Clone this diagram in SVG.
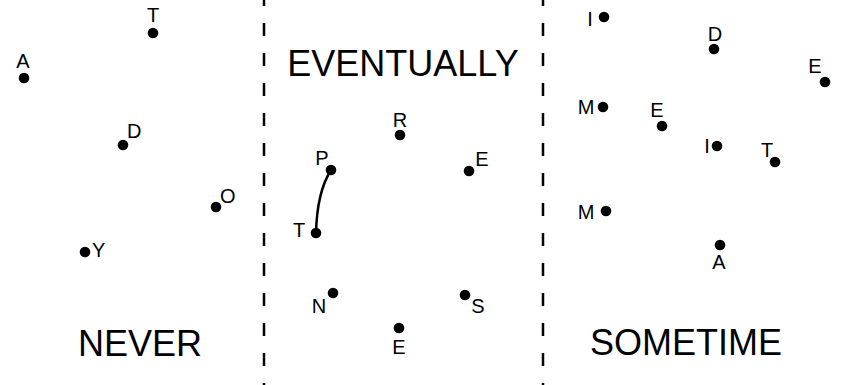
<svg xmlns="http://www.w3.org/2000/svg" width="844" height="385" viewBox="0 0 844 385">
<style>
.dot{fill:#000}
.lbl{font-family:"Liberation Sans",Arial,sans-serif;font-size:20px;fill:#000}
.big{font-family:"Liberation Sans",Arial,sans-serif;font-size:36px;fill:#000;text-anchor:middle}
.div{stroke:#000;stroke-width:2.5;stroke-dasharray:13 17;fill:none}
.edge{stroke:#000;stroke-width:2.5;fill:none}
</style>
<rect width="844" height="385" fill="#fff"/>
<g id="dividers">
<line class="div" x1="264" y1="-7" x2="264" y2="392"/>
<line class="div" x1="543" y1="-7" x2="543" y2="392"/>
</g>
<g id="titles">
<text class="big" x="140" y="356">NEVER</text>
<text class="big" x="403" y="76">EVENTUALLY</text>
<text class="big" x="686" y="355">SOMETIME</text>
</g>
<g id="connectors">
<path class="edge" d="M316,233 Q317,192 331,170"/>
</g>
<g id="never-T"><circle class="dot" cx="153" cy="33" r="5.3"/><text class="lbl" x="153" y="22" text-anchor="middle">T</text></g>
<g id="never-A"><circle class="dot" cx="24" cy="78" r="5.3"/><text class="lbl" x="23" y="68" text-anchor="middle">A</text></g>
<g id="never-D"><circle class="dot" cx="123" cy="145" r="5.3"/><text class="lbl" x="127" y="138">D</text></g>
<g id="never-O"><circle class="dot" cx="216" cy="207" r="5.3"/><text class="lbl" x="220" y="203">O</text></g>
<g id="never-Y"><circle class="dot" cx="85" cy="252" r="5.3"/><text class="lbl" x="92" y="257">Y</text></g>

<g id="ev-R"><circle class="dot" cx="400" cy="135" r="5.3"/><text class="lbl" x="400" y="127" text-anchor="middle">R</text></g>
<g id="ev-P"><circle class="dot" cx="331" cy="170" r="5.3"/><text class="lbl" x="322" y="165" text-anchor="middle">P</text></g>
<g id="ev-E1"><circle class="dot" cx="469" cy="171" r="5.3"/><text class="lbl" x="482" y="166" text-anchor="middle">E</text></g>
<g id="ev-T"><circle class="dot" cx="316" cy="233" r="5.3"/><text class="lbl" x="299" y="237" text-anchor="middle">T</text></g>
<g id="ev-N"><circle class="dot" cx="333" cy="293" r="5.3"/><text class="lbl" x="319" y="313" text-anchor="middle">N</text></g>
<g id="ev-S"><circle class="dot" cx="465" cy="295" r="5.3"/><text class="lbl" x="478" y="313" text-anchor="middle">S</text></g>
<g id="ev-E2"><circle class="dot" cx="399" cy="328" r="5.3"/><text class="lbl" x="399" y="354" text-anchor="middle">E</text></g>

<g id="so-I1"><circle class="dot" cx="604" cy="17" r="5.3"/><text class="lbl" x="590" y="26" text-anchor="middle">I</text></g>
<g id="so-D"><circle class="dot" cx="714" cy="49" r="5.3"/><text class="lbl" x="715" y="41" text-anchor="middle">D</text></g>
<g id="so-E1"><circle class="dot" cx="825" cy="82" r="5.3"/><text class="lbl" x="815" y="73" text-anchor="middle">E</text></g>
<g id="so-M1"><circle class="dot" cx="603" cy="107" r="5.3"/><text class="lbl" x="586" y="114" text-anchor="middle">M</text></g>
<g id="so-E2"><circle class="dot" cx="662" cy="126" r="5.3"/><text class="lbl" x="657" y="117" text-anchor="middle">E</text></g>
<g id="so-I2"><circle class="dot" cx="717" cy="146" r="5.3"/><text class="lbl" x="707" y="153" text-anchor="middle">I</text></g>
<g id="so-T"><circle class="dot" cx="775" cy="162" r="5.3"/><text class="lbl" x="767" y="157" text-anchor="middle">T</text></g>
<g id="so-M2"><circle class="dot" cx="606" cy="211" r="5.3"/><text class="lbl" x="586" y="219" text-anchor="middle">M</text></g>
<g id="so-A"><circle class="dot" cx="720" cy="245" r="5.3"/><text class="lbl" x="719" y="269" text-anchor="middle">A</text></g>
</svg>
